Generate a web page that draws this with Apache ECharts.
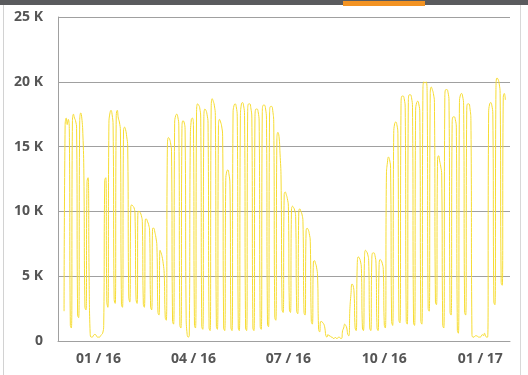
<!DOCTYPE html>
<html><head><meta charset="utf-8">
<script src="https://cdn.jsdelivr.net/npm/echarts@6/dist/echarts.min.js"></script>
<style>html,body{margin:0;padding:0;background:#fff;overflow:hidden}#c{width:528px;height:375px}</style>
</head><body><div id="c"></div>
<script>
// Daily values in thousands (K), first value = 29 Nov 2015
const nov2015 = [2.3, 16.6];
const dec2015 = [17.2, 16.7, 17.1, 16.4, 1.2, 1.0,
  16.9, 17.5, 17.2, 17.0, 16.4, 2.0, 1.8,
  17.0, 17.6, 17.2, 16.0, 12.8, 2.6, 2.4,
  12.3, 12.6, 5.0, 0.6, 0.3, 0.3, 0.4, 0.5, 0.5, 0.4, 0.3];
const jan2016 = [0.3, 0.3, 0.4,
  0.5, 0.6, 1.2, 12.4, 12.6, 3.0, 2.6,
  16.8, 17.6, 17.8, 17.5, 16.6, 3.2, 2.9,
  17.4, 17.8, 17.2, 16.9, 16.2, 2.8, 2.6,
  16.2, 16.5, 16.3, 15.8, 15.0, 3.4, 3.0];
const feb2016 = [10.4, 10.5, 10.4, 10.3, 9.8, 3.2, 2.9,
  10.0, 10.0, 9.9, 9.7, 9.2, 2.8, 2.6,
  9.4, 9.4, 9.2, 9.0, 8.5, 2.6, 2.4,
  8.7, 8.7, 8.4, 8.0, 7.3, 2.2, 2.0,
  7.0];
const mar2016 = [6.8, 6.5, 6.0, 5.2, 1.8, 1.6,
  14.8, 15.7, 15.6, 15.3, 14.6, 1.5, 1.3,
  16.8, 17.4, 17.5, 17.3, 16.6, 1.2, 1.0,
  16.4, 17.0, 16.9, 16.3, 2.0, 0.5, 0.3,
  0.4, 15.5, 17.1, 17.2];
const apr2016 = [16.6, 1.2, 1.0,
  17.6, 18.3, 18.2, 18.0, 17.2, 1.1, 0.9,
  17.2, 17.9, 17.8, 17.5, 16.8, 1.0, 0.8,
  17.9, 18.7, 18.5, 18.2, 17.4, 1.1, 0.9,
  16.6, 17.1, 16.9, 16.6, 15.8, 1.0];
const may2016 = [0.8,
  12.4, 13.1, 13.2, 12.9, 12.1, 1.0, 0.8,
  17.6, 18.2, 18.3, 18.1, 17.3, 1.0, 0.8,
  17.2, 18.3, 18.4, 18.2, 17.4, 1.0, 0.8,
  17.7, 18.3, 18.3, 18.0, 17.2, 1.0, 0.8,
  17.2, 17.9];
const jun2016 = [17.9, 17.7, 16.9, 1.1, 0.9,
  17.6, 18.2, 18.2, 18.0, 17.1, 1.3, 1.1,
  17.6, 18.1, 18.1, 17.8, 16.8, 1.8, 1.6,
  15.6, 16.1, 15.8, 14.5, 12.5, 2.4, 2.2,
  11.3, 11.5, 11.3, 11.0];
const jul2016 = [10.4, 2.4, 2.2,
  10.1, 10.4, 10.3, 10.1, 9.6, 2.3, 2.1,
  10.0, 10.2, 10.0, 9.8, 9.2, 2.2, 2.0,
  8.5, 8.7, 8.6, 8.3, 7.7, 1.5, 1.3,
  6.1, 6.2, 6.0, 5.7, 5.0, 0.9, 0.7];
const aug2016 = [1.5, 1.5, 1.4, 1.3, 1.0, 0.4, 0.3,
  0.5, 0.4, 0.4, 0.3, 0.3, 0.2, 0.2,
  0.3, 0.2, 0.2, 0.3, 0.3, 0.2, 0.2,
  0.8, 1.0, 1.3, 1.2, 1.0, 0.5, 0.4,
  2.5, 3.6, 4.4];
const sep2016 = [4.3, 3.7, 1.0, 0.8,
  5.8, 6.5, 6.4, 6.2, 5.6, 1.0, 0.8,
  6.5, 7.0, 6.9, 6.7, 6.2, 1.0, 0.8,
  6.3, 6.8, 6.8, 6.6, 6.0, 1.0, 0.8,
  5.9, 6.3, 6.2, 6.0, 5.5];
const oct2016 = [1.2, 1.0,
  12.8, 13.8, 14.2, 14.0, 13.3, 1.5, 1.2,
  16.0, 16.8, 16.9, 16.7, 16.0, 1.6, 1.4,
  18.2, 18.9, 18.9, 18.7, 18.0, 1.5, 1.3,
  18.4, 19.0, 19.0, 18.8, 18.0, 1.4, 1.2,
  17.8];
const nov2016 = [18.4, 18.5, 18.3, 17.6, 1.5, 1.3,
  19.4, 20.0, 19.9, 20.0, 19.2, 2.5, 2.3,
  19.1, 19.6, 19.4, 19.1, 18.4, 3.0, 2.8,
  14.0, 14.3, 13.9, 13.5, 12.8, 1.2, 1.0,
  18.8, 19.4, 19.4];
const dec2016 = [19.2, 18.5, 2.2, 2.0,
  16.7, 17.3, 17.3, 17.1, 16.5, 0.8, 0.6,
  18.4, 19.0, 19.1, 18.9, 18.2, 2.2, 2.0,
  17.8, 18.3, 18.3, 18.0, 17.0, 0.5, 0.3,
  0.3, 0.4, 0.4, 0.4, 0.3, 0.3];
const jan2017 = [0.3, 0.4, 0.5, 0.4, 0.6, 0.4, 0.3, 0.3,
  17.6, 18.3, 18.4, 18.2, 17.5, 3.0, 2.8,
  19.4, 20.3, 20.2, 19.9, 19.1, 4.5, 4.3,
  18.8, 19.1, 18.6];

const tickMonths = [[2016, 0], [2016, 3], [2016, 6], [2016, 9], [2017, 0]];
const tickLabels = ['01 / 16', '04 / 16', '07 / 16', '10 / 16', '01 / 17'];
const yTicks = [0, 5, 10, 15, 20, 25];

const DAY = 86400000;
const ref = new Date(2016, 0, 1).getTime();
const dayOf = (y, m, d) => Math.round((new Date(y, m, d).getTime() - ref) / DAY);

const values = [].concat(nov2015, dec2015, jan2016, feb2016, mar2016, apr2016, may2016,
  jun2016, jul2016, aug2016, sep2016, oct2016, nov2016, dec2016, jan2017);
const data = values.map((v, i) => [dayOf(2015, 10, 29 + i), v]);
const tickDays = tickMonths.map(m => dayOf(m[0], m[1], 1));

const xMin = -38.82;
const xMax = 394.46;

const chart = echarts.init(document.getElementById('c'), null, {renderer: 'canvas'});
const labelStyle = {color: '#555', fontWeight: 'bold', fontSize: 14, fontFamily: '"Open Sans", sans-serif'};
chart.setOption({
  animation: false,
  grid: {left: 58, right: 18, top: 17, bottom: 34, containLabel: false},
  xAxis: {
    type: 'value', min: xMin, max: xMax,
    axisLine: {show: true, onZero: false, lineStyle: {color: '#a0a0a0', width: 1}},
    axisTick: {show: false},
    splitLine: {show: false},
    axisLabel: Object.assign({
      customValues: tickDays,
      margin: 11,
      showMinLabel: true, showMaxLabel: true,
      formatter: function (v) {
        let best = 0, bd = Infinity;
        tickDays.forEach((t, i) => { const d = Math.abs(t - v); if (d < bd) { bd = d; best = i; } });
        return tickLabels[best];
      }
    }, labelStyle)
  },
  yAxis: {
    type: 'value', min: yTicks[0], max: yTicks[yTicks.length - 1], interval: 5,
    axisLine: {show: true, onZero: false, lineStyle: {color: '#a0a0a0', width: 1}},
    axisTick: {show: false},
    splitLine: {show: true, lineStyle: {color: '#a0a0a0', width: 1}},
    axisLabel: Object.assign({
      margin: 15,
      formatter: v => (v === 0 ? '0' : v + ' K')
    }, labelStyle)
  },
  series: [{
    type: 'line', data: data, showSymbol: false, smooth: 0.5,
    lineStyle: {color: '#f6dc32', width: 1},
    itemStyle: {color: '#f6dc32'}
  }],
  graphic: [
    {type: 'rect', shape: {x: 0, y: 0, width: 528, height: 5}, style: {fill: '#5a5b5e'}, silent: true},
    {type: 'rect', shape: {x: 343, y: 1, width: 82, height: 5}, style: {fill: '#f39322'}, silent: true},
    {type: 'line', shape: {x1: 3.5, y1: 5, x2: 3.5, y2: 375}, style: {stroke: '#d2d2d2', lineWidth: 1}, silent: true},
    {type: 'line', shape: {x1: 520.5, y1: 5, x2: 520.5, y2: 375}, style: {stroke: '#d8d8d8', lineWidth: 1}, silent: true}
  ]
});
</script>
</body></html>
